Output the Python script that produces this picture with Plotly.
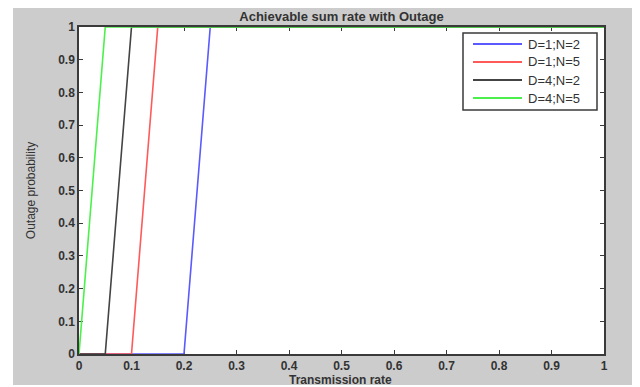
import plotly.graph_objects as go

# Data
rate = [0.0, 0.05, 0.10, 0.15, 0.20, 0.25, 0.30, 0.35, 0.40, 0.45, 0.50,
        0.55, 0.60, 0.65, 0.70, 0.75, 0.80, 0.85, 0.90, 0.95, 1.0]
d1_n2 = [0, 0, 0, 0, 0, 1, 1, 1, 1, 1, 1, 1, 1, 1, 1, 1, 1, 1, 1, 1, 1]
d1_n5 = [0, 0, 0, 1, 1, 1, 1, 1, 1, 1, 1, 1, 1, 1, 1, 1, 1, 1, 1, 1, 1]
d4_n2 = [0, 0, 1, 1, 1, 1, 1, 1, 1, 1, 1, 1, 1, 1, 1, 1, 1, 1, 1, 1, 1]
d4_n5 = [0, 1, 1, 1, 1, 1, 1, 1, 1, 1, 1, 1, 1, 1, 1, 1, 1, 1, 1, 1, 1]

series_names = ["D=1;N=2", "D=1;N=5", "D=4;N=2", "D=4;N=5"]
series_values = [d1_n2, d1_n5, d4_n2, d4_n5]
series_colors = ["#5a5aff", "#ff5a5a", "#444444", "#4cf04c"]

tick_vals = [0, 0.1, 0.2, 0.3, 0.4, 0.5, 0.6, 0.7, 0.8, 0.9, 1]

FONT = "Liberation Sans, Arial, sans-serif"
AX = "#3a3a3a"
TXT = "#333333"

# page body has an 8px margin: work in page pixels, convert to figure pixels
OFF = 8
W, H = 640 - OFF, 387 - OFF
L, R, T, B = 79 - OFF, 604 - OFF, 27 - OFF, 354 - OFF
pw, ph = R - L, B - T


def px(x_page):
    return (x_page - OFF - L) / pw


def py(y_page):
    return (B - (y_page - OFF)) / ph


fig = go.Figure()
for name, vals, col in zip(series_names, series_values, series_colors):
    fig.add_trace(go.Scatter(x=rate, y=vals, mode="lines", name=name,
                             line=dict(color=col, width=1.6),
                             cliponaxis=False, showlegend=False))

axis_common = dict(
    range=[0, 1], tickvals=tick_vals, ticks="inside", ticklen=4,
    tickcolor=AX, tickwidth=1.2, showline=True, linecolor=AX, linewidth=1.5,
    mirror="ticks", showgrid=False, zeroline=False, layer="below traces",
    tickfont=dict(family=FONT, size=12, color=TXT, weight="bold"),
    fixedrange=True,
)

shapes = [
    dict(type="rect", xref="paper", yref="paper", layer="below",
         x0=px(13), x1=px(637), y0=py(385), y1=py(8),
         fillcolor="#cccccc", line=dict(width=0)),
    dict(type="rect", xref="paper", yref="paper", layer="below",
         x0=0, x1=1, y0=0, y1=1,
         fillcolor="white", line=dict(width=0)),
    # legend box
    dict(type="rect", xref="paper", yref="paper", layer="above",
         x0=px(463), x1=px(597), y0=py(110), y1=py(33),
         fillcolor="white", line=dict(color=AX, width=1.5)),
]
annotations = [
    dict(text="Transmission rate", xref="paper", yref="paper",
         x=px(340), y=py(380), xanchor="center", yanchor="middle",
         showarrow=False,
         font=dict(family=FONT, size=12, color=TXT, weight="bold")),
]

row_y = [44, 62, 80, 98]
for name, col, ry in zip(series_names, series_colors, row_y):
    shapes.append(dict(type="line", xref="paper", yref="paper", layer="above",
                       x0=px(473), x1=px(522), y0=py(ry), y1=py(ry),
                       line=dict(color=col, width=2)))
    annotations.append(dict(text=name, xref="paper", yref="paper",
                            x=px(526), y=py(ry), xanchor="left",
                            yanchor="middle", showarrow=False,
                            font=dict(family=FONT, size=13, color=TXT)))

fig.update_layout(
    width=W, height=H,
    margin=dict(l=L, r=W - R, t=T, b=H - B, autoexpand=False),
    paper_bgcolor="white", plot_bgcolor="white",
    showlegend=False,
    title=dict(text="Achievable sum rate with Outage", x=0.5, xref="paper",
               xanchor="center", y=1 - 3.5 / H, yref="container", yanchor="top",
               pad=dict(t=0, b=0, l=0, r=0),
               font=dict(family=FONT, size=13, color=TXT, weight="bold")),
    xaxis=dict(**axis_common),
    yaxis=dict(**axis_common,
               title=dict(text="Outage probability", standoff=20,
                          font=dict(family=FONT, size=12, color=TXT))),
    shapes=shapes,
    annotations=annotations,
)

fig.write_html("out.html")
